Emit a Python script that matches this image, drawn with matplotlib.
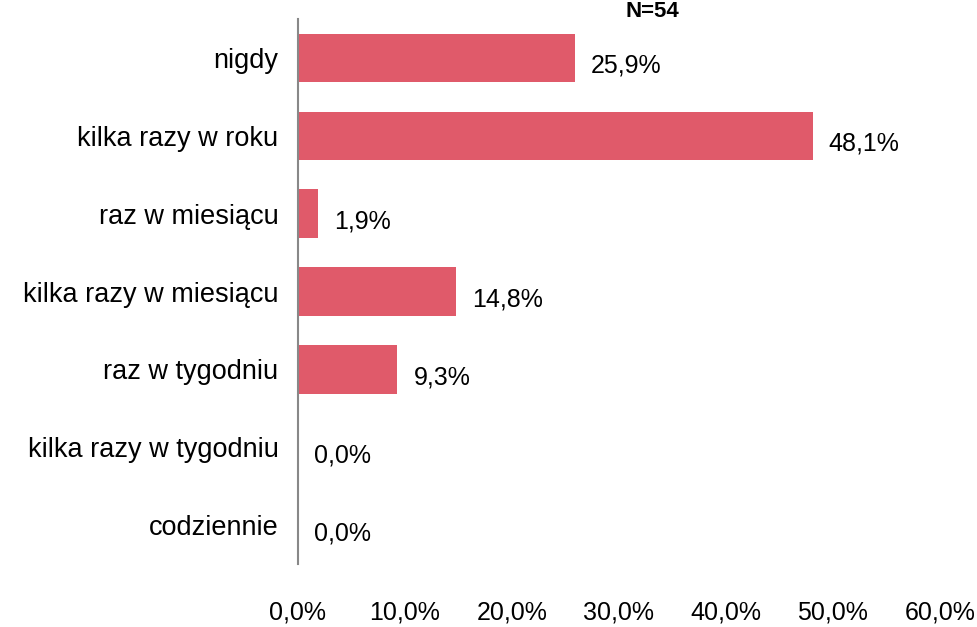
import matplotlib
matplotlib.use("Agg")
import matplotlib.pyplot as plt

categories = ["nigdy", "kilka razy w roku", "raz w miesiącu", "kilka razy w miesiącu",
              "raz w tygodniu", "kilka razy w tygodniu", "codziennie"]
values = [25.9, 48.1, 1.9, 14.8, 9.3, 0.0, 0.0]
xticks = [0, 10, 20, 30, 40, 50, 60]
xtick_labels = ["0,0%", "10,0%", "20,0%", "30,0%", "40,0%", "50,0%", "60,0%"]

plt.rcParams['font.family'] = ['Liberation Sans', 'DejaVu Sans']

fig = plt.figure(figsize=(9.77, 6.27), dpi=100)
ax = fig.add_axes([0.305, 0.10, 0.657, 0.87])

y = list(range(len(categories)))
ax.barh(y, values, height=0.62, color="#E05A6A")
ax.set_ylim(len(categories) - 0.5, -0.5)
ax.set_xlim(0, 60)
ax.set_yticks(y)
ax.set_yticklabels(categories, fontsize=19.5)
ax.set_xticks(xticks)
ax.set_xticklabels(xtick_labels, fontsize=18)
ax.tick_params(axis='both', length=0)
ax.tick_params(axis='y', pad=14)
ax.tick_params(axis='x', pad=26)
for s in ["top", "right", "bottom"]:
    ax.spines[s].set_visible(False)
ax.spines["left"].set_color("#888888")
ax.spines["left"].set_linewidth(1.5)

for yi, v in zip(y, values):
    ax.text(v + 1.5, yi + 0.1, f"{v:.1f}%".replace(".", ","), va="center", ha="left", fontsize=18)

fig.text(0.695, 0.998, "N=54", ha="right", va="top", fontsize=16, fontweight="bold")

fig.savefig("out.png", dpi=100)
